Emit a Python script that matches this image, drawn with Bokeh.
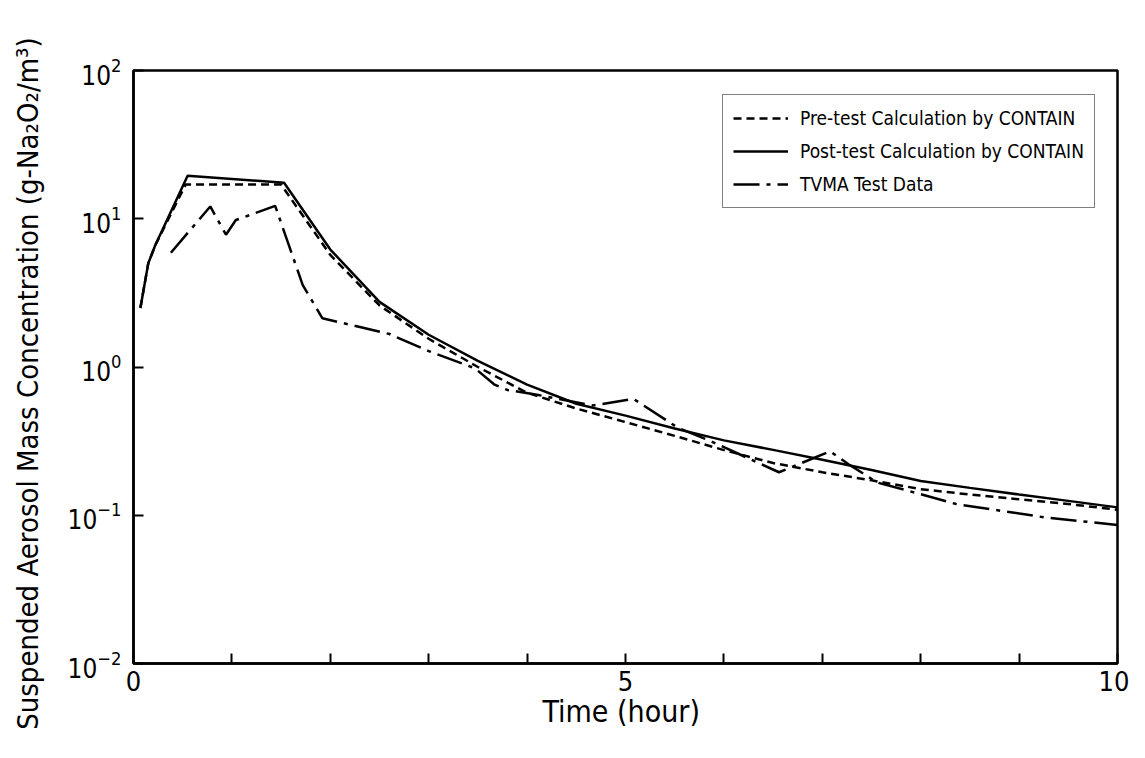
from bokeh.plotting import figure
from bokeh.models import FixedTicker, Legend, LegendItem
from bokeh.embed import file_html
from bokeh.resources import INLINE

# Pre-test calculation by CONTAIN (dashed)
pre_t = [0.07, 0.15, 0.22, 0.53, 1.50, 2.0, 2.5, 3.0, 3.5, 4.0, 4.5, 5.0, 5.5,
         6.0, 6.5, 7.0, 7.5, 8.0, 8.5, 9.0, 9.5, 10.0]
pre_c = [2.5, 5.0, 6.6, 17.0, 17.0, 5.7, 2.6, 1.55, 1.0, 0.67, 0.525, 0.425, 0.343,
         0.275, 0.225, 0.195, 0.172, 0.150, 0.138, 0.128, 0.119, 0.109]

# Post-test calculation by CONTAIN (solid)
post_t = [0.07, 0.15, 0.22, 0.55, 1.53, 2.0, 2.5, 3.0, 3.5, 4.0, 4.5, 5.0, 5.5,
          6.0, 6.5, 7.0, 7.5, 8.0, 8.5, 9.0, 9.5, 10.0]
post_c = [2.5, 5.0, 6.6, 19.5, 17.5, 6.2, 2.75, 1.65, 1.1, 0.76, 0.565, 0.47, 0.385,
          0.32, 0.276, 0.237, 0.202, 0.17, 0.153, 0.138, 0.125, 0.113]

# TVMA test data (dash-dot)
tvma_t = [0.38, 0.78, 0.94, 1.04, 1.44, 1.72, 1.92, 2.6, 3.0, 3.47, 3.67, 3.8, 4.1,
          4.67, 5.08, 5.53, 5.86, 6.56, 7.08, 7.27, 7.56, 7.86, 8.36, 9.25, 10.0]
tvma_c = [5.9, 12.1, 7.8, 9.8, 12.2, 3.57, 2.13, 1.67, 1.28, 0.98, 0.76, 0.70, 0.65,
          0.55, 0.61, 0.39, 0.317, 0.195, 0.27, 0.22, 0.166, 0.147, 0.119, 0.097, 0.086]

x_ticks = list(range(0, 11))
x_tick_labels = {0: "0", 5: "5", 10: "10"}
legend_labels = ["Pre-test Calculation by CONTAIN",
                 "Post-test Calculation by CONTAIN",
                 "TVMA Test Data"]

FONT = "'DejaVu Sans Condensed', 'DejaVu Sans', sans-serif"

p = figure(width=1129, height=742, x_range=(0, 10), y_range=(0.01, 100),
           y_axis_type="log", output_backend="svg", toolbar_location=None,
           min_border_left=133, min_border_right=12, min_border_top=70,
           min_border_bottom=79)

p.xgrid.visible = False
p.ygrid.visible = False
p.outline_line_color = "black"
p.outline_line_width = 2.5
p.background_fill_color = "white"
p.border_fill_color = "white"

r_pre = p.line(pre_t, pre_c, line_color="black", line_width=2.5, line_dash="8 5")
r_post = p.line(post_t, post_c, line_color="black", line_width=2.5)
r_tvma = p.line(tvma_t, tvma_c, line_color="black", line_width=2.5, line_dash="26 7 4 7")

xa = p.xaxis[0]
xa.ticker = FixedTicker(ticks=x_ticks)
xa.major_label_overrides = {t: x_tick_labels.get(t, "") for t in x_ticks}
xa.major_tick_in = 10
xa.major_tick_out = 0
xa.minor_tick_line_color = None
xa.axis_line_width = 2.5
xa.major_tick_line_width = 2
xa.major_label_text_font = FONT
xa.major_label_text_font_size = "27px"
xa.major_label_text_color = "black"
xa.major_label_standoff = 7
xa.axis_label = "Time  (hour)"
xa.axis_label_text_font = FONT
xa.axis_label_text_font_size = "30px"
xa.axis_label_text_font_style = "normal"
xa.axis_label_text_color = "black"
xa.axis_label_standoff = 0

ya = p.yaxis[0]
ya.major_tick_in = 10
ya.major_tick_out = 0
ya.minor_tick_line_color = None
ya.axis_line_width = 2.5
ya.major_tick_line_width = 2
ya.major_label_text_font = FONT
ya.major_label_text_font_size = "26px"
ya.major_label_text_color = "black"
ya.major_label_standoff = 8
ya.axis_label = "Suspended  Aerosol  Mass  Concentration  (g-Na\u2082O\u2082/m\u00b3)"
ya.axis_label_text_font = FONT
ya.axis_label_text_font_size = "29px"
ya.axis_label_text_font_style = "normal"
ya.axis_label_text_color = "black"
ya.axis_label_standoff = 20

legend = Legend(items=[LegendItem(label=legend_labels[0], renderers=[r_pre]),
                       LegendItem(label=legend_labels[1], renderers=[r_post]),
                       LegendItem(label=legend_labels[2], renderers=[r_tvma])],
                location=(589, 455))
legend.label_text_font = FONT
legend.label_text_font_size = "19px"
legend.label_text_color = "black"
legend.glyph_width = 55
legend.glyph_height = 26
legend.label_standoff = 12
legend.spacing = 7
legend.padding = 10
legend.margin = 0
legend.border_line_color = "black"
legend.border_line_width = 1.5
legend.background_fill_alpha = 1
p.add_layout(legend)

open("out.html", "w").write(file_html(p, INLINE))
